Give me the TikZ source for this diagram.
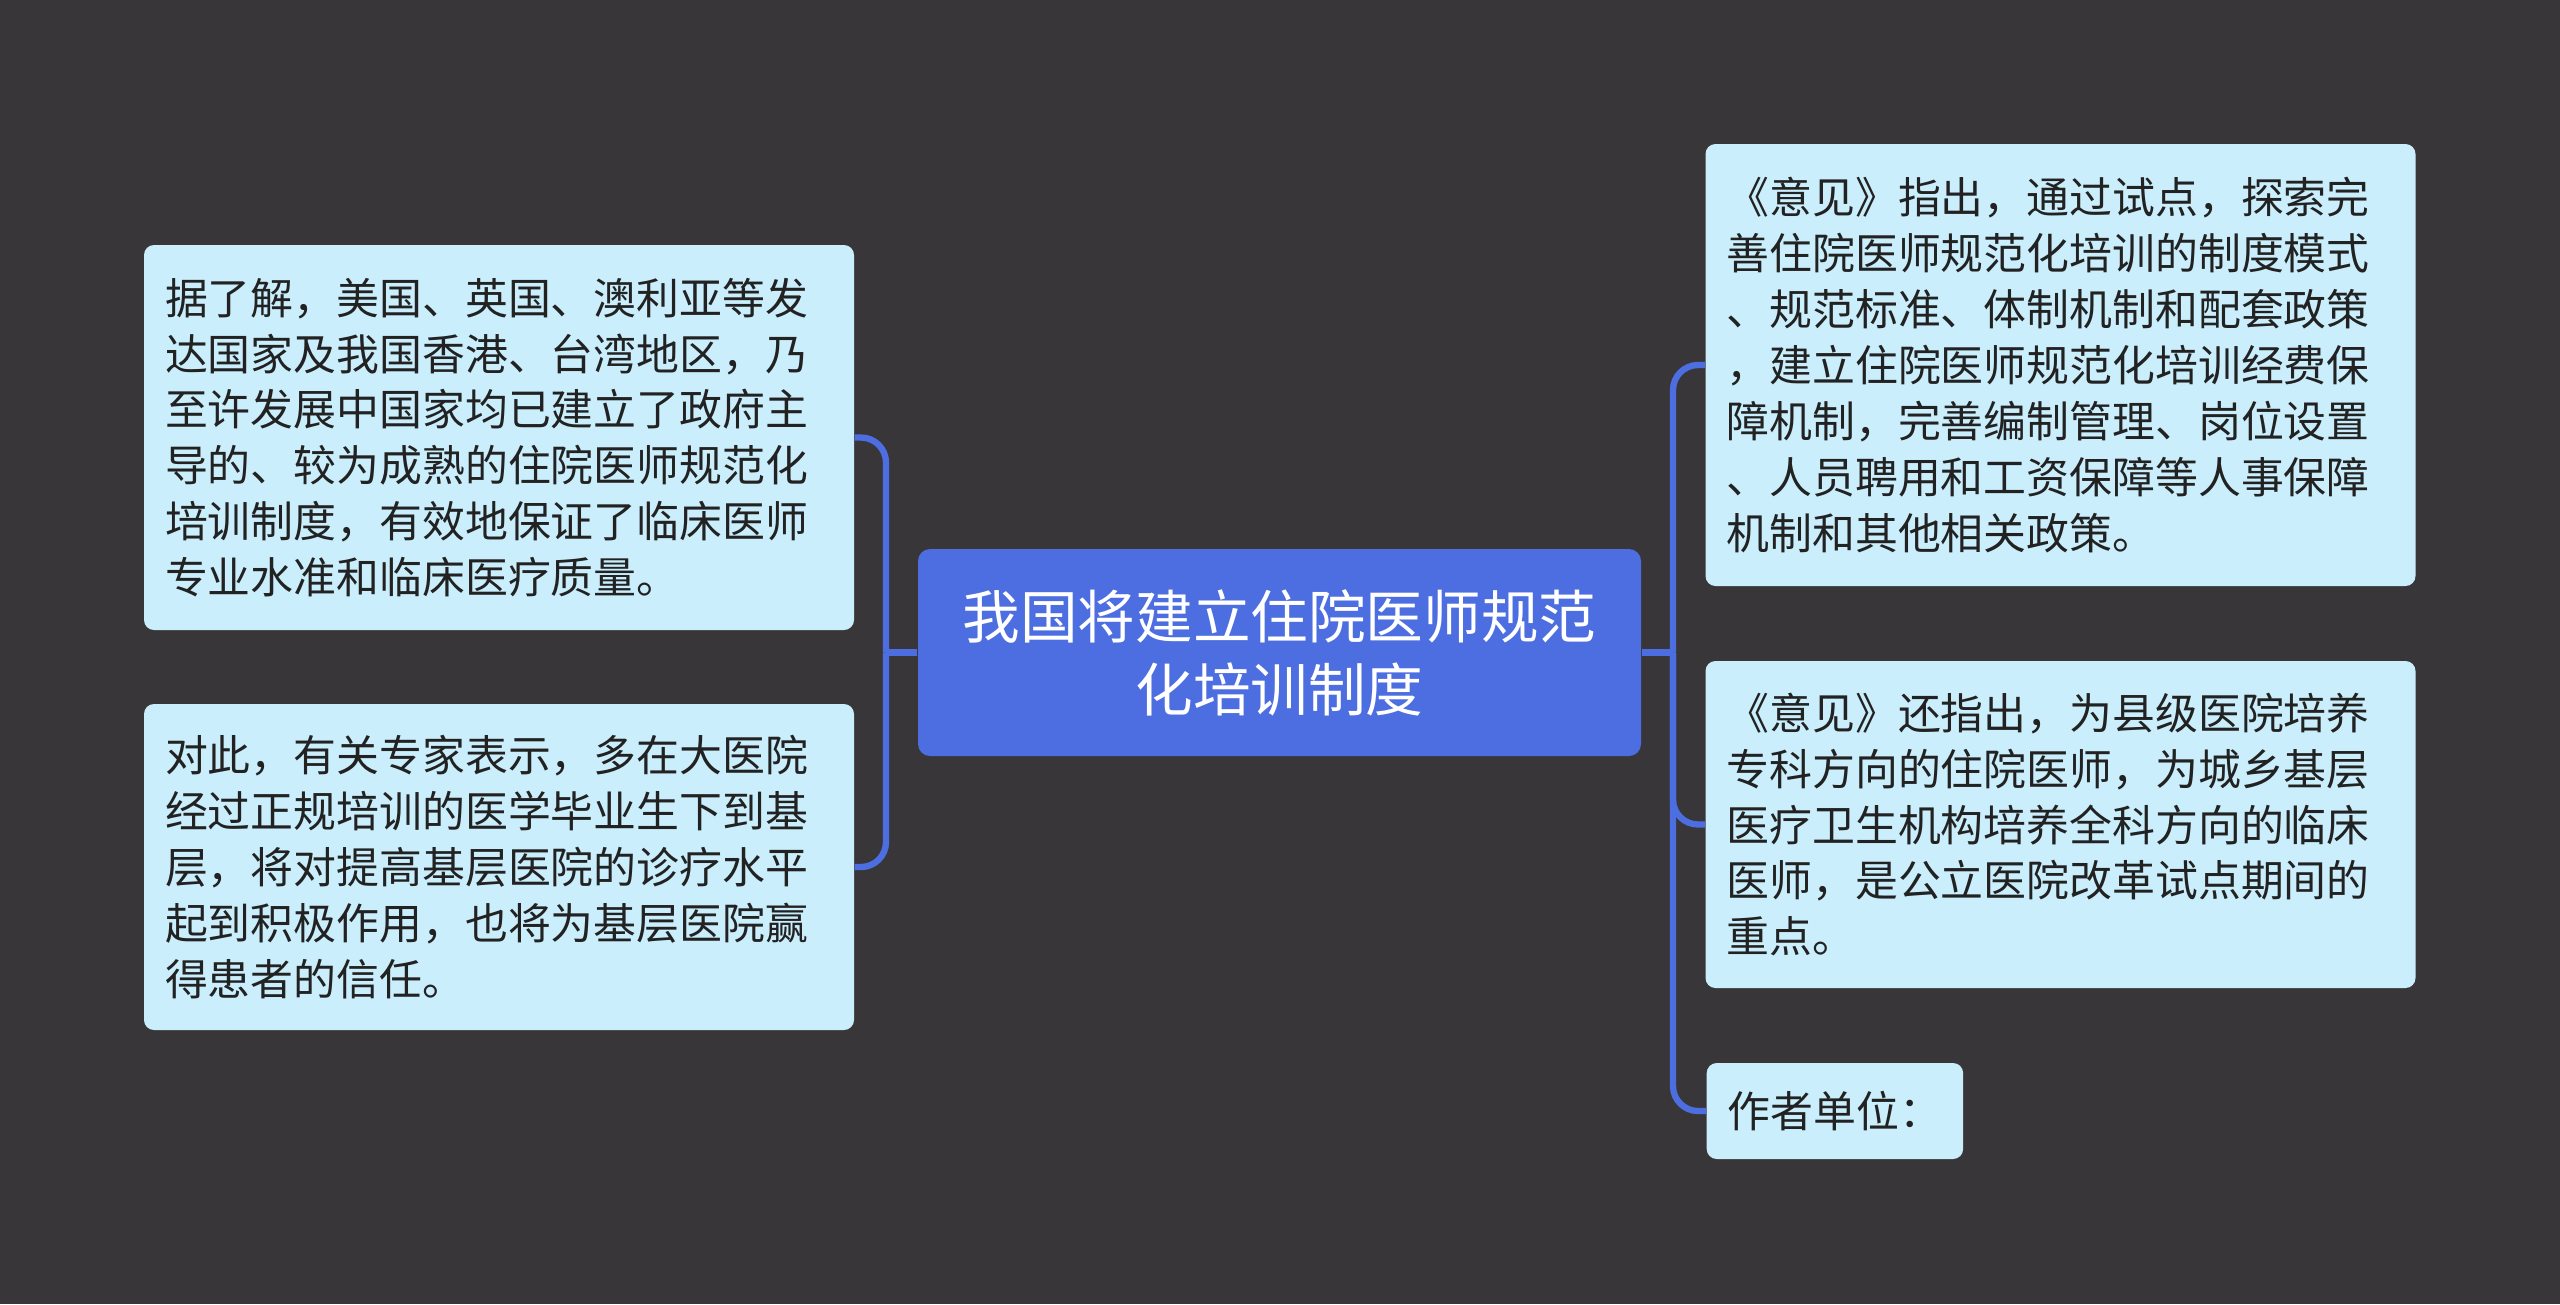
\documentclass[tikz,border=0pt]{standalone}
\usepackage{fontspec}
\setmainfont{Noto Sans CJK SC}
\usepackage{tikz}

\definecolor{bgc}{RGB}{56,54,56}
\definecolor{topicc}{RGB}{77,110,224}
\definecolor{leafc}{RGB}{202,238,252}
\definecolor{inkc}{RGB}{34,34,34}

\begin{document}
\begin{tikzpicture}[leaf/.style={shape=rectangle,rounded corners=0.1cm,fill=leafc,text=inkc,align=left,inner xsep=0.21cm,inner ysep=0cm,font=\fontsize{12.2}{15.9}\selectfont},leafW/.style={leaf,text width=6.68cm},topic/.style={shape=rectangle,rounded corners=0.12cm,fill=topicc,text=white,align=center,inner sep=0cm,font=\fontsize{16.4}{20.8}\selectfont},link/.style={draw=topicc,line width=1.8pt,rounded corners=0.25cm}]
\def\bl{8.86};
\def\br{16.73};
\def\yc{-6.525};

\fill[bgc] (0,0) rectangle (25.6,-13.04);

\node[topic,minimum width=7.23cm,minimum height=2.07cm] (T) at (12.795,\yc) {我国将建立住院医师规范\\化培训制度};

\node[leafW,minimum height=3.85cm] (L1) at (4.99,-4.375) {据了解，美国、英国、澳利亚等发\\达国家及我国香港、台湾地区，乃\\至许发展中国家均已建立了政府主\\导的、较为成熟的住院医师规范化\\培训制度，有效地保证了临床医师\\专业水准和临床医疗质量。};
\node[leafW,minimum height=3.26cm] (L2) at (4.99,-8.67) {对此，有关专家表示，多在大医院\\经过正规培训的医学毕业生下到基\\层，将对提高基层医院的诊疗水平\\起到积极作用，也将为基层医院赢\\得患者的信任。};

\node[leafW,minimum height=4.42cm] (R1) at (20.605,-3.65) {《意见》指出，通过试点，探索完\\善住院医师规范化培训的制度模式\\、规范标准、体制机制和配套政策\\，建立住院医师规范化培训经费保\\障机制，完善编制管理、岗位设置\\、人员聘用和工资保障等人事保障\\机制和其他相关政策。};
\node[leafW,minimum height=3.27cm] (R2) at (20.605,-8.245) {《意见》还指出，为县级医院培养\\专科方向的住院医师，为城乡基层\\医疗卫生机构培养全科方向的临床\\医师，是公立医院改革试点期间的\\重点。};
\node[leaf,minimum width=2.55cm,minimum height=0.96cm,anchor=west] (R3) at (17.06,-11.11) {作者单位：};

\coordinate (BL) at (\bl,\yc);
\coordinate (BR) at (\br,\yc);
\draw[link] (T.west) -- (BL);
\draw[link] (BL) |- (L1.east);
\draw[link] (BL) |- (L2.east);
\draw[link] (T.east) -- (BR);
\draw[link] (BR) |- (R1.west);
\draw[link] (BR) |- (R2.west);
\draw[link] (BR) |- (R3.west);
\end{tikzpicture}
\end{document}
